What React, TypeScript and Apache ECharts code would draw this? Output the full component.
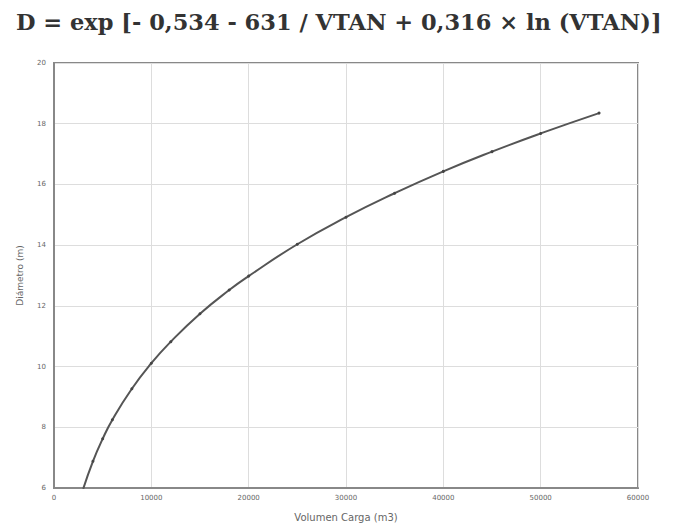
import React, { useEffect, useRef } from "react";
import * as echarts from "echarts";

const titleText = "D = exp [- 0,534 - 631 / VTAN + 0,316 × ln (VTAN)]";
const xAxisName = "Volumen Carga (m3)";
const yAxisName = "Diámetro (m)";
const volumes = [3000, 4000, 5000, 6000, 8000, 10000, 12000, 15000, 18000, 20000, 25000, 30000, 35000, 40000, 45000, 50000, 56000];
const diameters = [5.97, 6.88, 7.62, 8.25, 9.27, 10.11, 10.82, 11.74, 12.52, 12.98, 14.03, 14.92, 15.71, 16.43, 17.08, 17.68, 18.35];

export default function App() {
  const ref = useRef<HTMLDivElement>(null);
  useEffect(() => {
    const chart = echarts.init(ref.current!, null, { renderer: "svg" });
    chart.setOption({
      animation: false,
      backgroundColor: "#ffffff",
      title: {
        text: titleText,
        left: 11,
        top: 5,
        textStyle: { fontFamily: "DejaVu Serif", fontSize: 22.5, fontWeight: "bold", color: "#333" },
      },
      grid: { left: 54, right: 36, top: 63, bottom: 38, show: true, borderColor: "#888", borderWidth: 2 },
      xAxis: {
        type: "value",
        min: 0,
        max: 60000,
        interval: 10000,
        name: xAxisName,
        nameLocation: "middle",
        nameGap: 24,
        nameTextStyle: { fontFamily: "DejaVu Sans", fontSize: 10, color: "#666" },
        axisLine: { show: true, lineStyle: { color: "#888", width: 2 } },
        axisTick: { show: false },
        axisLabel: { fontFamily: "DejaVu Sans", fontSize: 7, color: "#666", margin: 6, formatter: (v: number) => String(v) },
        splitLine: { show: true, lineStyle: { color: "#ddd", width: 1 } },
      },
      yAxis: {
        type: "value",
        min: 6,
        max: 20,
        interval: 2,
        name: yAxisName,
        nameLocation: "middle",
        nameGap: 30,
        nameTextStyle: { fontFamily: "DejaVu Sans", fontSize: 9, color: "#666" },
        axisLine: { show: true, lineStyle: { color: "#888", width: 2 } },
        axisTick: { show: false },
        axisLabel: { fontFamily: "DejaVu Sans", fontSize: 7, color: "#666", margin: 8 },
        splitLine: { show: true, lineStyle: { color: "#ddd", width: 1 } },
      },
      series: [
        {
          type: "line",
          data: volumes.map((v, i) => [v, diameters[i]]),
          smooth: true,
          symbol: "circle",
          symbolSize: 3,
          lineStyle: { color: "#555", width: 2 },
          itemStyle: { color: "#444" },
        },
      ],
    });
    return () => chart.dispose();
  }, []);
  return <div ref={ref} style={{ position: "fixed", left: 0, top: 0, width: 674, height: 527 }} />;
}
